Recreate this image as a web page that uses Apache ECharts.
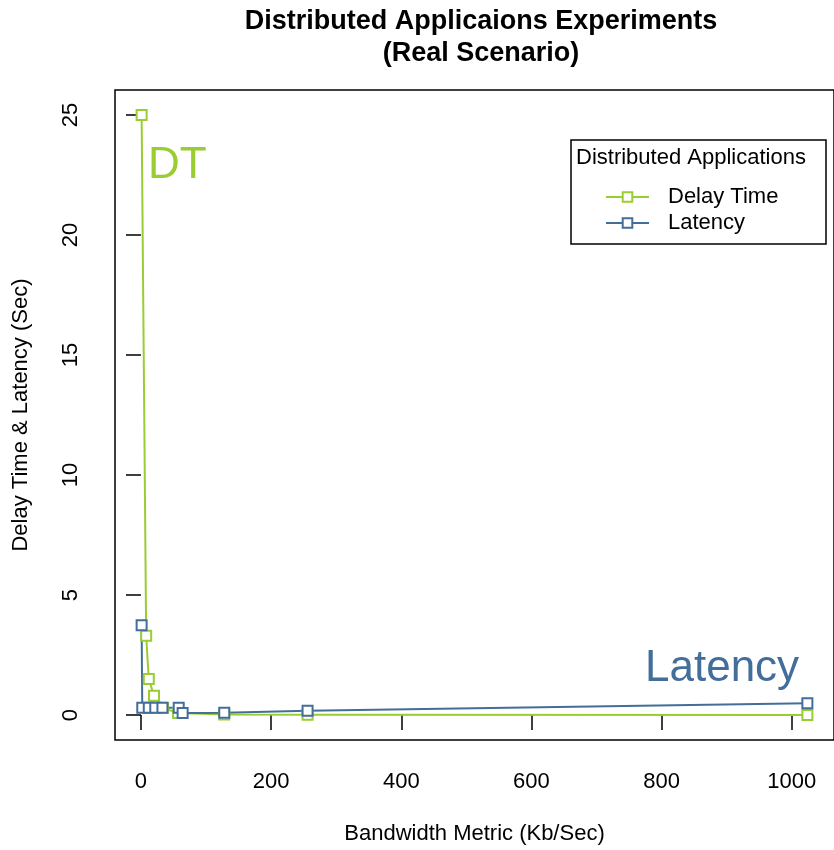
<!DOCTYPE html>
<html>
<head>
<meta charset="utf-8">
<script src="https://cdn.jsdelivr.net/npm/echarts@6/dist/echarts.min.js"></script>
<style>
  html, body { margin: 0; padding: 0; background: #fff; }
  #chart { width: 834px; height: 850px; }
</style>
</head>
<body>
<div id="chart"></div>
<script>
// bandwidth (Kb/Sec) vs delay time / latency (Sec)
const dtBandwidth = [1, 8, 12, 20, 34, 57, 128, 256, 1024];
const dtDelay = [25, 3.3, 1.5, 0.8, 0.3, 0.08, 0.02, 0.01, 0.0];

const latBandwidth = [1, 2, 12, 22, 33, 58, 64, 128, 256, 1024];
const latLatency = [3.74, 0.3, 0.3, 0.3, 0.3, 0.3, 0.08, 0.1, 0.18, 0.49];

const xTicks = [0, 200, 400, 600, 800, 1000];
const yTicks = [0, 5, 10, 15, 20, 25];

const green = '#9acd32';
const blue = '#436e9a';
const font = '"Liberation Sans", Arial, sans-serif';

const zip = (xs, ys) => xs.map((x, i) => [x, ys[i]]);

const chart = echarts.init(document.getElementById('chart'));

const option = {
  animation: false,
  backgroundColor: '#fff',
  textStyle: { fontFamily: font },
  title: {
    text: 'Distributed Applicaions Experiments\n(Real Scenario)',
    left: 476,
    textAlign: 'center',
    top: 1,
    textStyle: { fontSize: 27, fontWeight: 'bold', color: '#000', lineHeight: 32, fontFamily: font }
  },
  grid: {
    left: 115,
    top: 90,
    right: -11,
    bottom: 110,
    show: true,
    borderColor: '#000',
    borderWidth: 1.5,
    backgroundColor: 'transparent'
  },
  xAxis: {
    type: 'value',
    min: -39.9,
    max: 1064.9,
    name: 'Bandwidth Metric (Kb/Sec)',
    nameLocation: 'middle',
    nameGap: 83,
    nameTextStyle: { fontSize: 22, color: '#000', fontFamily: font },
    axisLine: { show: false },
    splitLine: { show: false },
    axisTick: { show: true, length: 15, customValues: xTicks, lineStyle: { color: '#000', width: 1.5 } },
    axisLabel: { customValues: xTicks, formatter: v => String(v), fontSize: 22, color: '#000', margin: 31, fontFamily: font }
  },
  yAxis: {
    type: 'value',
    min: -1.04,
    max: 26.04,
    name: 'Delay Time & Latency (Sec)',
    nameLocation: 'middle',
    nameGap: 83,
    nameTextStyle: { fontSize: 22, color: '#000', fontFamily: font },
    axisLine: { show: false },
    splitLine: { show: false },
    axisTick: { show: true, length: 15, customValues: yTicks, lineStyle: { color: '#000', width: 1.5 } },
    axisLabel: { customValues: yTicks, rotate: 90, fontSize: 22, color: '#000', margin: 33, fontFamily: font }
  },
  legend: {
    orient: 'vertical',
    left: 600,
    top: 181,
    itemWidth: 43,
    itemHeight: 12,
    itemGap: 4,
    z: 10,
    textStyle: { fontSize: 22, color: '#000', padding: [0, 0, 0, 14], fontFamily: font },
    data: ['Delay Time', 'Latency']
  },
  graphic: [
    {
      type: 'rect',
      z: 5,
      shape: { x: 571, y: 140, width: 255, height: 104 },
      style: { fill: '#fff', stroke: '#000', lineWidth: 1.5 }
    },
    {
      type: 'text',
      z: 6,
      left: 576,
      top: 147,
      style: { text: 'Distributed Applications', fontSize: 22, fill: '#000', fontFamily: font }
    },
    {
      type: 'text',
      z: 6,
      left: 148,
      top: 144,
      style: { text: 'DT', fontSize: 44, fill: green, fontFamily: font }
    },
    {
      type: 'text',
      z: 6,
      left: 645,
      top: 647,
      style: { text: 'Latency', fontSize: 44, fill: blue, fontFamily: font }
    }
  ],
  series: [
    {
      name: 'Delay Time',
      type: 'line',
      data: zip(dtBandwidth, dtDelay),
      symbol: 'emptyRect',
      symbolSize: 10,
      clip: false,
      color: green,
      lineStyle: { color: green, width: 2 },
      itemStyle: { color: green, borderColor: green, borderWidth: 1.5 }
    },
    {
      name: 'Latency',
      type: 'line',
      data: zip(latBandwidth, latLatency),
      symbol: 'emptyRect',
      symbolSize: 10,
      clip: false,
      color: blue,
      lineStyle: { color: blue, width: 2 },
      itemStyle: { color: blue, borderColor: blue, borderWidth: 1.5 }
    }
  ]
};

chart.setOption(option);
</script>
</body>
</html>
